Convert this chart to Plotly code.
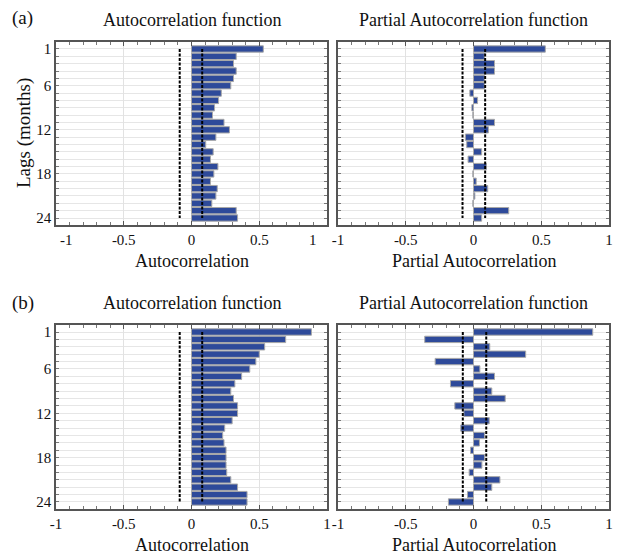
import plotly.graph_objects as go

lags = list(range(1, 25))

acf_a = [0.53, 0.33, 0.31, 0.33, 0.31, 0.29, 0.22, 0.20, 0.17, 0.155, 0.24, 0.28,
         0.18, 0.105, 0.16, 0.14, 0.195, 0.165, 0.14, 0.19, 0.18, 0.15, 0.33, 0.34]
pacf_a = [0.53, 0.08, 0.155, 0.155, 0.08, 0.08, -0.027, 0.03, -0.012, -0.005, 0.155, 0.11,
          -0.06, -0.05, 0.06, -0.04, 0.095, -0.005, 0.02, 0.105, 0.01, -0.005, 0.26, 0.06]
acf_b = [0.885, 0.695, 0.54, 0.50, 0.475, 0.43, 0.37, 0.32, 0.29, 0.31, 0.34, 0.34,
         0.30, 0.245, 0.23, 0.24, 0.255, 0.255, 0.255, 0.26, 0.29, 0.34, 0.41, 0.41]
pacf_b = [0.88, -0.36, 0.12, 0.385, -0.283, 0.047, 0.155, -0.17, 0.135, 0.234, -0.138, -0.071,
          0.116, -0.094, 0.081, 0.044, -0.022, 0.081, 0.062, -0.032, 0.195, 0.135, -0.044, -0.185]

# confidence bounds (lower, upper) per panel
conf_acf_a = [-0.087, 0.079]
conf_pacf_a = [-0.081, 0.086]
conf_acf_b = [-0.087, 0.079]
conf_pacf_b = [-0.079, 0.094]

x_ticks = [-1, -0.5, 0, 0.5, 1]
x_ticktext = ["-1", "-0.5", "0", "0.5", "1"]
y_ticks = [1, 6, 12, 18, 24]

titles = ["Autocorrelation function", "Partial Autocorrelation function"]
xtitles = ["Autocorrelation", "Partial Autocorrelation"]

W, H = 620, 555
bar_color = "#2e4a9a"
serif = "Liberation Serif, Times New Roman, serif"

panels = [
    (acf_a, conf_acf_a, (56, 327), (42, 225)),
    (pacf_a, conf_pacf_a, (338, 609), (42, 225)),
    (acf_b, conf_acf_b, (56, 327), (325, 509)),
    (pacf_b, conf_pacf_b, (338, 609), (325, 509)),
]

fig = go.Figure()
layout = dict(
    width=W, height=H, margin=dict(l=0, r=0, t=0, b=0, autoexpand=False),
    paper_bgcolor="white", plot_bgcolor="white", showlegend=False,
    font=dict(family=serif, color="#111", size=15),
)
annotations = []

for i, (vals, conf, (x0, x1), (y0, y1)) in enumerate(panels):
    n = i + 1
    xa = "x" if n == 1 else f"x{n}"
    ya = "y" if n == 1 else f"y{n}"
    fig.add_trace(go.Bar(
        x=vals, y=lags, orientation="h", width=0.86,
        marker=dict(color=bar_color, line=dict(color="#a8a8a8", width=1)),
        xaxis=xa, yaxis=ya, hoverinfo="x+y",
    ))
    for c in conf:
        fig.add_trace(go.Scatter(
            x=[c, c], y=[lags[0], lags[-1]], mode="lines",
            line=dict(color="black", width=2, dash="3px,1.5px"),
            xaxis=xa, yaxis=ya, hoverinfo="skip",
        ))
    left = i % 2 == 0
    if i == 0:
        # end labels of this panel sit slightly inward in the reference
        ttext = [""] + x_ticktext[1:-1] + [""]
        annotations.append(dict(text=x_ticktext[0], x=66 / W, y=1 - 240 / H, xref="paper", yref="paper",
                                showarrow=False, font=dict(size=15, family=serif, color="#111"),
                                xanchor="center", yanchor="middle"))
        annotations.append(dict(text=x_ticktext[-1], x=313 / W, y=1 - 240 / H, xref="paper", yref="paper",
                                showarrow=False, font=dict(size=15, family=serif, color="#111"),
                                xanchor="center", yanchor="middle"))
    else:
        ttext = x_ticktext
    layout[f"xaxis{'' if n == 1 else n}"] = dict(
        domain=[x0 / W, x1 / W], anchor=ya, range=[-1, 1], automargin=False,
        tickvals=x_ticks, ticktext=ttext, ticks="inside", ticklen=4,
        tickcolor="#555", showline=True, linecolor="#555", linewidth=1.5,
        mirror="allticks", showgrid=True, gridcolor="#e2e2e2", gridwidth=1,
        zeroline=False, tickfont=dict(size=15, family=serif, color="#111"),
        minor=dict(dtick=0.1, tick0=0, ticks="inside", ticklen=3, tickcolor="#777", showgrid=False),
        fixedrange=True,
    )
    layout[f"yaxis{'' if n == 1 else n}"] = dict(
        domain=[1 - y1 / H, 1 - y0 / H], anchor=xa, range=[24.95, 0.05], automargin=False,
        tickvals=y_ticks if left else [], ticks="inside", ticklen=3,
        showticklabels=left, tickcolor="#777",
        showline=True, linecolor="#555", linewidth=1.5, mirror="allticks",
        showgrid=False, zeroline=False,
        tickfont=dict(size=15, family=serif, color="#111"),
        minor=dict(dtick=1, tick0=0, ticks="inside", ticklen=3, tickcolor="#777",
                   showgrid=True, gridcolor="#e6e6e6", gridwidth=1),
        fixedrange=True,
    )
    xc = (x0 + x1) / 2 / W
    annotations.append(dict(text=titles[i % 2], x=xc, y=1 - (y0 - 22) / H, xref="paper", yref="paper",
                            showarrow=False, font=dict(size=18, family=serif, color="#111"),
                            xanchor="center", yanchor="middle"))
    annotations.append(dict(text=xtitles[i % 2], x=xc, y=1 - (y1 + 36) / H, xref="paper", yref="paper",
                            showarrow=False, font=dict(size=18, family=serif, color="#111"),
                            xanchor="center", yanchor="middle"))

annotations.append(dict(text="(a)", x=10 / W, y=1 - 18 / H, xref="paper", yref="paper", showarrow=False,
                        font=dict(size=19, family=serif, color="#111"), xanchor="left", yanchor="middle"))
annotations.append(dict(text="(b)", x=10 / W, y=1 - 303 / H, xref="paper", yref="paper", showarrow=False,
                        font=dict(size=19, family=serif, color="#111"), xanchor="left", yanchor="middle"))
annotations.append(dict(text="Lags (months)", x=24 / W, y=1 - 133 / H, xref="paper", yref="paper",
                        showarrow=False, textangle=-90,
                        font=dict(size=19, family=serif, color="#111"), xanchor="center", yanchor="middle"))
layout["annotations"] = annotations
fig.update_layout(**layout)
fig.write_html("out.html", config={"displayModeBar": False},
               post_script="document.body.style.margin='0';document.body.style.overflow='hidden';")
